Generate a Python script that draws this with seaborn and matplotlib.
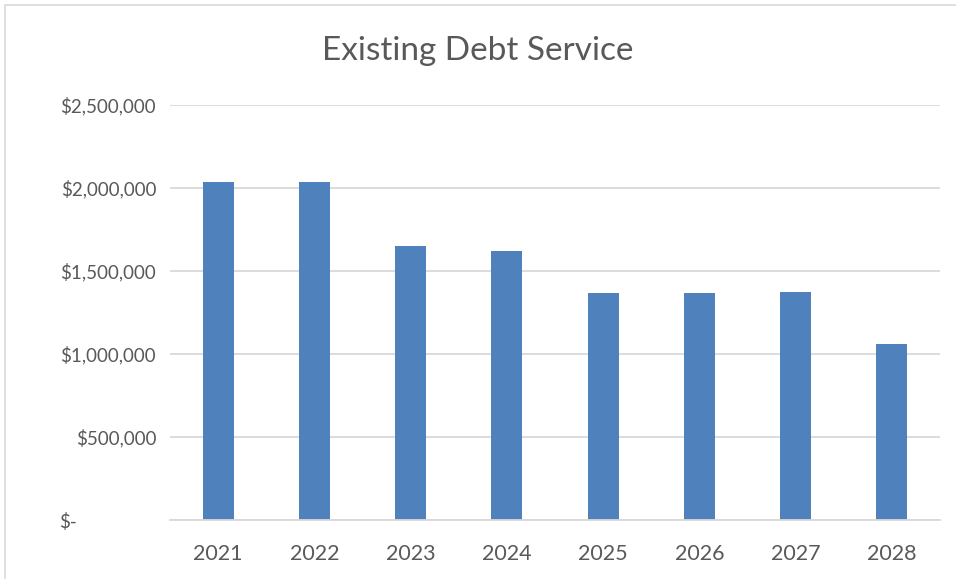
import matplotlib
matplotlib.use("Agg")
import matplotlib.pyplot as plt
import matplotlib.transforms as mtransforms
from matplotlib.patches import Rectangle
import seaborn as sns
import pandas as pd

years = ["2021", "2022", "2023", "2024", "2025", "2026", "2027", "2028"]
debt_service = [2038000, 2034000, 1653000, 1619000, 1369000, 1370000, 1372000, 1060000]
ytick_values = [0, 500000, 1000000, 1500000, 2000000, 2500000]
ytick_labels = ["$-", "$500,000", "$1,000,000", "$1,500,000", "$2,000,000", "$2,500,000"]

df = pd.DataFrame({"year": years, "value": debt_service})

sns.set_theme(style="white")
plt.rcParams["font.family"] = ["Lato", "DejaVu Sans"]

W, H = 956, 579
fig = plt.figure(figsize=(W / 100, H / 100), dpi=100)
fig.patch.set_facecolor("white")
ax = fig.add_axes([170 / W, (H - 520) / H, (940 - 170) / W, (520 - 105) / H])

sns.barplot(data=df, x="year", y="value", color="#4F81BD", saturation=1,
            width=0.32, ax=ax, edgecolor="none")

ax.set_ylim(0, 2500000)
ax.set_xlim(-0.5, len(years) - 0.5)
ax.set_yticks(ytick_values)
ax.set_yticklabels(ytick_labels)
ax.yaxis.grid(True, color="#D9D9D9", linewidth=1.3)
ax.set_axisbelow(True)
for s in ["top", "right", "left"]:
    ax.spines[s].set_visible(False)
ax.spines["bottom"].set_color("#D9D9D9")
ax.spines["bottom"].set_linewidth(1.3)
ax.tick_params(axis="both", length=0, labelcolor="#595959")
ax.tick_params(axis="y", pad=10, labelsize=13.5)
ax.tick_params(axis="x", pad=17, labelsize=15.5)
ax.set_xlabel("")
ax.set_ylabel("")

# accounting-style "$-" label: left aligned with the other labels' left edge
zero_lab = ax.get_yticklabels()[0]
zero_lab.set_horizontalalignment("left")
zero_lab.set_transform(zero_lab.get_transform() +
                       mtransforms.ScaledTranslation(-97 / 100, 0, fig.dpi_scale_trans))

fig.text(0.5, (H - 51) / H, "Existing Debt Service", ha="center", va="center",
         fontsize=24, color="#595959")

fig.patches.append(Rectangle((5 / W, -0.01), (W - 3) / W, (H - 5) / H + 0.01,
                             transform=fig.transFigure, fill=False,
                             edgecolor="#D9D9D9", linewidth=1.2))

fig.savefig("out.png", dpi=100)
